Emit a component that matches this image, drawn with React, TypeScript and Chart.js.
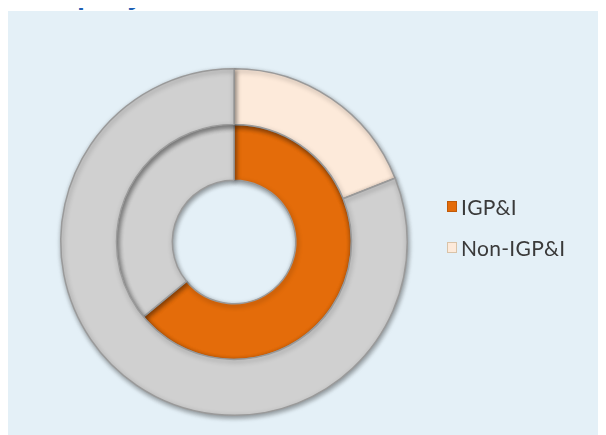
import React, { useEffect, useRef } from "react";
import { Chart, registerables } from "chart.js";

Chart.register(...registerables);

// Legend categories
const legendLabels = ["IGP&I", "Non-IGP&I"];
const legendColors = ["#e46c0a", "#fdeada"];

// Slice labels (highlighted share vs remainder)
const sliceLabels = ["Share", "Other"];
// Outer ring: Non-IGP&I share vs remainder (%)
const outerValues = [19, 81];
// Inner ring: IGP&I share vs remainder (%)
const innerValues = [64, 36];

const GRAY = "#d0d0d0";

const shadowPlugin = {
  id: "ringShadow",
  beforeDatasetsDraw(chart: any) {
    const ctx = chart.ctx;
    ctx.save();
    ctx.shadowColor = "rgba(0,0,0,0.4)";
    ctx.shadowBlur = 5;
    ctx.shadowOffsetX = 1;
    ctx.shadowOffsetY = 2;
  },
  afterDatasetsDraw(chart: any) {
    chart.ctx.restore();
  },
};

export default function App() {
  const ref = useRef<HTMLCanvasElement | null>(null);
  useEffect(() => {
    if (!ref.current) return;
    const chart = new Chart(ref.current, {
      type: "doughnut",
      data: {
        labels: sliceLabels,
        datasets: [
          {
            data: outerValues,
            backgroundColor: [legendColors[1], GRAY],
            borderColor: "#9a9a9a",
            borderWidth: 1.5,
          },
          {
            data: innerValues,
            backgroundColor: [legendColors[0], GRAY],
            borderColor: "#9a9a9a",
            borderWidth: 1.5,
          },
        ],
      },
      options: {
        responsive: false,
        animation: false,
        cutout: "35.6%",
        layout: { padding: { left: 0, right: 146, top: 57, bottom: 19 } },
        plugins: { legend: { display: false }, tooltip: { enabled: false } },
      },
      plugins: [shadowPlugin],
    });
    return () => chart.destroy();
  }, []);

  const titleStyle: React.CSSProperties = {
    position: "absolute",
    top: -27,
    fontFamily: "'Open Sans', sans-serif",
    fontWeight: 700,
    fontSize: 26,
    lineHeight: "26px",
    color: "#1f5fb4",
  };

  return (
    <div style={{ position: "relative", width: 598, height: 427 }}>
      <span style={{ ...titleStyle, left: 69 }}>p</span>
      <span style={{ ...titleStyle, left: 89 }}>,</span>
      <span style={{ ...titleStyle, left: 120 }}>y</span>
      <div
        style={{
          position: "absolute",
          top: 3,
          left: 0,
          width: 598,
          height: 424,
          background: "#e4f0f7",
        }}
      >
        <canvas ref={ref} width={598} height={424} style={{ display: "block" }} />
        {legendLabels.map((lab, i) => (
          <div
            key={lab}
            style={{
              position: "absolute",
              left: 439,
              top: 183 + i * 41,
              height: 24,
              display: "flex",
              alignItems: "center",
              fontFamily: "Lato, sans-serif",
              fontSize: 21,
              letterSpacing: 0.3,
              color: "#3a3a3a",
            }}
          >
            <span
              style={{
                display: "inline-block",
                width: 10,
                height: 11,
                background: legendColors[i],
                border: i === 1 ? "1px solid #d9c3a8" : "1px solid #c05a08",
                boxSizing: "border-box",
                marginRight: 4,
              }}
            />
            {lab}
          </div>
        ))}
      </div>
    </div>
  );
}
